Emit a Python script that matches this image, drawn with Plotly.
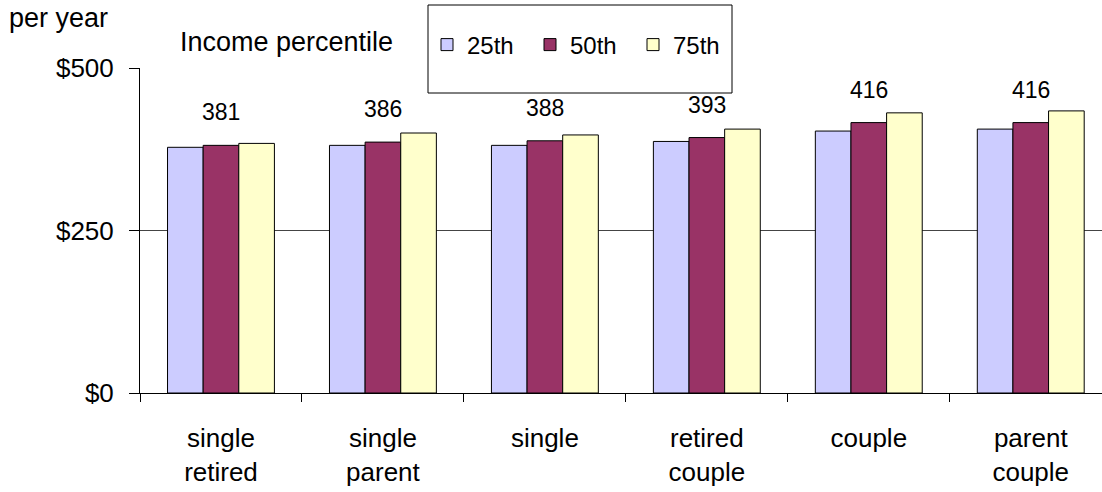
import plotly.graph_objects as go

categories = ["single<br>retired", "single<br>parent", "single", "retired<br>couple", "couple", "parent<br>couple"]
series_names = ["25th", "50th", "75th"]
p25 = [378, 381, 381, 387, 403, 406]
p50 = [381, 386, 388, 393, 416, 416]
p75 = [384, 400, 397, 406, 431, 434]
label_values = p50
ytick_vals = [0, 250, 500]
ytick_text = ["$0", "$250", "$500"]

colors = ["#CCCCFF", "#993366", "#FFFFCC"]
FONT = "Liberation Sans, Arial, sans-serif"

L, T, PW, PH = 140, 68, 962, 325


def px(xp):
    return (xp - L) / PW


def py(yp):
    return (T + PH - yp) / PH


fig = go.Figure()
for name, vals, col in zip(series_names, [p25, p50, p75], colors):
    fig.add_trace(go.Bar(
        x=categories, y=vals, name=name,
        marker=dict(color=col, line=dict(color="#000000", width=1)),
    ))

for cat, v in zip(categories, label_values):
    fig.add_annotation(x=cat, y=v, xref="x", yref="y", text=str(v),
                       showarrow=False, yshift=33, yanchor="middle",
                       font=dict(family=FONT, size=23, color="#000"))

fig.add_annotation(x=px(7), y=py(18), xref="paper", yref="paper", text="per year",
                   showarrow=False, xanchor="left", yanchor="middle",
                   font=dict(family=FONT, size=27, color="#000"))
fig.add_annotation(x=px(178), y=py(42), xref="paper", yref="paper",
                   text="Income percentile", showarrow=False, xanchor="left", yanchor="middle",
                   font=dict(family=FONT, size=27, color="#000"))

fig.add_shape(type="rect", xref="paper", yref="paper",
              x0=px(428), x1=px(732), y0=py(93), y1=py(5),
              line=dict(color="#000", width=1), fillcolor="white", layer="above")

fig.update_layout(
    width=1102, height=492,
    margin=dict(l=L, r=1102 - L - PW, t=T, b=492 - T - PH),
    paper_bgcolor="white", plot_bgcolor="white",
    barmode="group", bargap=0.34, bargroupgap=0,
    font=dict(family=FONT, size=26, color="#000"),
    showlegend=True,
    legend=dict(orientation="h", x=px(427), y=py(45),
                xanchor="left", yanchor="middle",
                bgcolor="rgba(0,0,0,0)", borderwidth=0,
                font=dict(family=FONT, size=24, color="#000"),
                entrywidth=58, entrywidthmode="pixels", itemwidth=30,
                traceorder="normal"),
    xaxis=dict(range=[-0.5, 5.44], showline=True, linecolor="#000", linewidth=1,
               ticks="outside", ticklen=8, tickcolor="#000", tickson="boundaries",
               tickfont=dict(family=FONT, size=26, color="#000"),
               ticklabelstandoff=22, showgrid=False, fixedrange=True),
    yaxis=dict(range=[0, 500], tickvals=ytick_vals, ticktext=ytick_text,
               showline=True, linecolor="#000", linewidth=1,
               ticks="outside", ticklen=10, tickcolor="#000",
               showgrid=True, gridcolor="#444", gridwidth=1,
               zeroline=False, tickfont=dict(family=FONT, size=26, color="#000"),
               ticklabelstandoff=10),
)

fig.write_html("out.html", config={"displayModeBar": False},
               post_script="document.body.style.margin='0';document.body.style.overflow='hidden';")
